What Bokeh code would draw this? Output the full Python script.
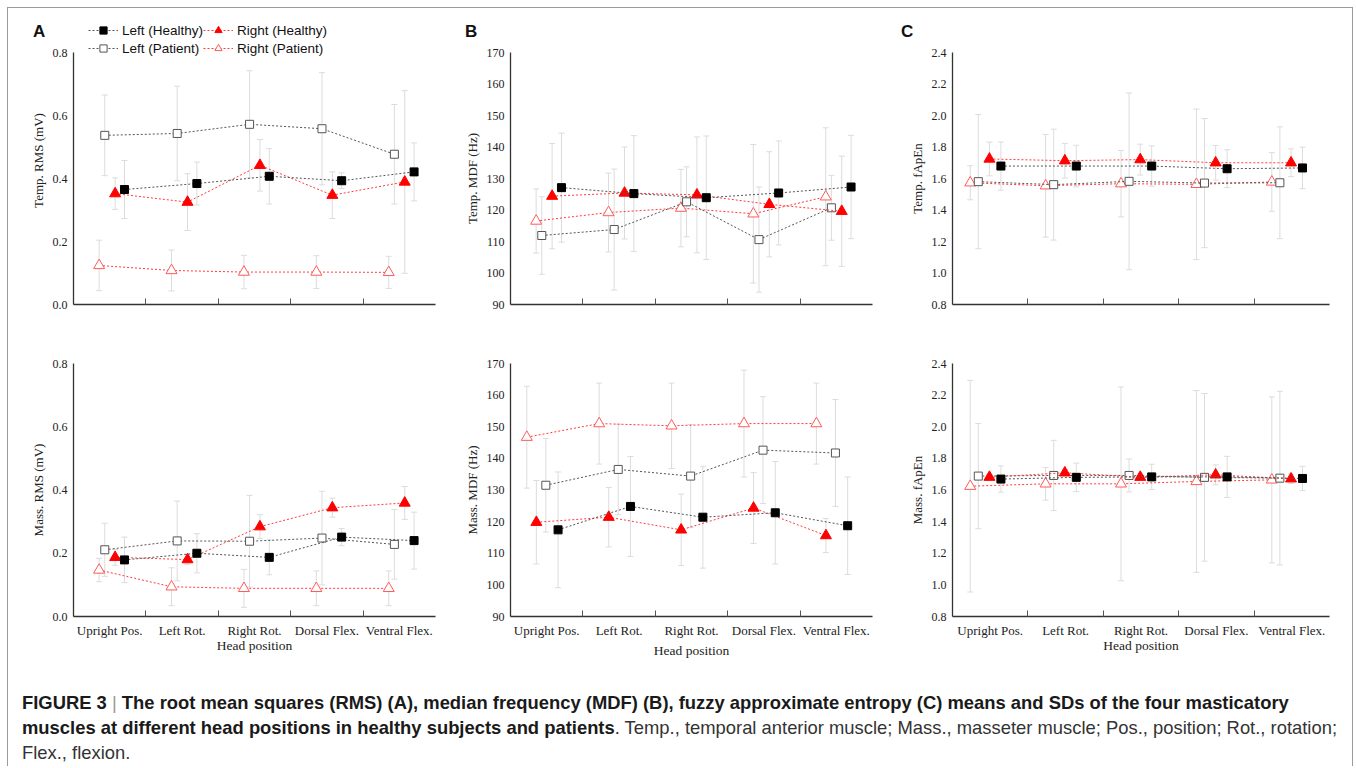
import numpy as np
from bokeh.plotting import figure
from bokeh.models import (ColumnDataSource, Whisker, TeeHead, Range1d, FixedTicker,
                          NumeralTickFormatter, Legend, LegendItem, Div, Spacer)
from bokeh.layouts import row, column
from bokeh.embed import file_html
from bokeh.resources import INLINE

# ---------------- data ----------------
categories = ["Upright Pos.", "Left Rot.", "Right Rot.", "Dorsal Flex.", "Ventral Flex."]
series_labels = {"LH": "Left (Healthy)", "RH": "Right (Healthy)",
                 "LP": "Left (Patient)", "RP": "Right (Patient)"}

# Temporal RMS (mV)
temp_rms_lh = [0.365, 0.384, 0.407, 0.393, 0.421]
temp_rms_lh_sd = [0.092, 0.068, 0.088, 0.025, 0.092]
temp_rms_rh = [0.352, 0.325, 0.442, 0.347, 0.389]
temp_rms_rh_sd = [0.050, 0.090, 0.082, 0.074, 0.290]
temp_rms_lp = [0.537, 0.543, 0.572, 0.558, 0.477]
temp_rms_lp_sd = [0.128, 0.150, 0.170, 0.178, 0.158]
temp_rms_rp = [0.124, 0.108, 0.103, 0.103, 0.102]
temp_rms_rp_sd = [0.080, 0.065, 0.053, 0.052, 0.051]

# Masseter RMS (mV)
mass_rms_lh = [0.179, 0.200, 0.187, 0.251, 0.240]
mass_rms_lh_sd = [0.072, 0.062, 0.055, 0.027, 0.090]
mass_rms_rh = [0.187, 0.180, 0.284, 0.344, 0.359]
mass_rms_rh_sd = [0.025, 0.015, 0.038, 0.030, 0.052]
mass_rms_lp = [0.211, 0.239, 0.238, 0.248, 0.228]
mass_rms_lp_sd = [0.084, 0.126, 0.145, 0.148, 0.110]
mass_rms_rp = [0.147, 0.094, 0.089, 0.089, 0.089]
mass_rms_rp_sd = [0.037, 0.060, 0.060, 0.055, 0.055]

# Temporal MDF (Hz)
temp_mdf_lh = [127.1, 125.2, 123.9, 125.4, 127.3]
temp_mdf_lh_sd = [17.3, 18.4, 19.6, 16.5, 16.4]
temp_mdf_rh = [124.4, 125.4, 124.8, 121.8, 119.6]
temp_mdf_rh_sd = [16.7, 14.6, 18.4, 16.7, 17.5]
temp_mdf_lp = [111.9, 113.8, 122.6, 110.6, 120.7]
temp_mdf_lp_sd = [12.3, 19.2, 11.1, 16.7, 10.3]
temp_mdf_rp = [116.5, 119.2, 120.6, 118.8, 124.2]
temp_mdf_rp_sd = [10.2, 12.5, 12.3, 22.0, 21.9]

# Masseter MDF (Hz)
mass_mdf_lh = [117.4, 124.8, 121.4, 122.8, 118.7]
mass_mdf_lh_sd = [18.3, 15.8, 16.1, 16.2, 15.4]
mass_mdf_rh = [119.8, 121.4, 117.4, 124.3, 115.6]
mass_mdf_rh_sd = [13.2, 9.4, 11.3, 11.2, 5.4]
mass_mdf_lp = [131.5, 136.5, 134.4, 142.6, 141.7]
mass_mdf_lp_sd = [14.8, 14.3, 16.3, 16.9, 16.9]
mass_mdf_rp = [146.7, 151.0, 150.3, 151.0, 151.0]
mass_mdf_rp_sd = [16.1, 12.8, 13.5, 16.9, 12.8]

# Temporal fApEn
temp_fapen_lh = [1.679, 1.679, 1.679, 1.662, 1.667]
temp_fapen_lh_sd = [0.153, 0.132, 0.128, 0.120, 0.132]
temp_fapen_rh = [1.724, 1.713, 1.720, 1.700, 1.700]
temp_fapen_rh_sd = [0.107, 0.110, 0.098, 0.110, 0.088]
temp_fapen_lp = [1.580, 1.561, 1.582, 1.571, 1.573]
temp_fapen_lp_sd = [0.426, 0.352, 0.561, 0.410, 0.355]
temp_fapen_rp = [1.573, 1.554, 1.567, 1.563, 1.578]
temp_fapen_rp_sd = [0.108, 0.326, 0.211, 0.478, 0.186]

# Masseter fApEn
mass_fapen_lh = [1.669, 1.680, 1.683, 1.683, 1.673]
mass_fapen_lh_sd = [0.083, 0.090, 0.080, 0.130, 0.077]
mass_fapen_rh = [1.681, 1.709, 1.681, 1.696, 1.671]
mass_fapen_rh_sd = [0.020, 0.020, 0.020, 0.063, 0.030]
mass_fapen_lp = [1.688, 1.692, 1.692, 1.680, 1.675]
mass_fapen_lp_sd = [0.333, 0.222, 0.104, 0.530, 0.549]
mass_fapen_rp = [1.624, 1.639, 1.639, 1.654, 1.664]
mass_fapen_rp_sd = [0.669, 0.103, 0.613, 0.575, 0.525]

panel_letters = ["A", "B", "C"]

# ---------------- styles ----------------
STY = {
    "LH": dict(marker="square", size=8, fill_color="black", line_color="black", lc="#555555"),
    "LP": dict(marker="square", size=8, fill_color="white", line_color="#555555", lc="#555555"),
    "RH": dict(marker="triangle", size=11, fill_color="#ff0000", line_color="#ff0000", lc="#ff3b3b"),
    "RP": dict(marker="triangle", size=11, fill_color="white", line_color="#ff5a5a", lc="#ff3b3b"),
}
ERR = "#dcdcdc"
SERIF = "Liberation Serif"
SANS = "Liberation Sans"

# within-category offsets (fraction of category width), per panel group
OFF_A = {"RP": -0.146, "LP": -0.068, "RH": 0.075, "LH": 0.204}
OFF_B2 = {"RP": -0.275, "RH": -0.143, "LP": -0.012, "LH": 0.157}
OFF_C = {"RP": -0.265, "LP": -0.158, "RH": -0.010, "LH": 0.142}


def make_panel(ylabel, ylim, yticks, yfmt, data, offsets, width, height,
               mbl, mbr, mbt, mbb, bottom, legend=False, xlab_standoff=-3, extra_top=0):
    """extra_top: pixels of frame kept above the axis top (room for the legend)."""
    n = len(categories)
    frame_h = height - mbt - mbb
    axis_px = frame_h - extra_top
    y_hi = ylim[1] + (ylim[1] - ylim[0]) * extra_top / axis_px
    p = figure(width=width, height=height, x_range=Range1d(0, n),
               y_range=Range1d(ylim[0], y_hi), output_backend="svg", toolbar_location=None,
               min_border_left=mbl, min_border_right=mbr, min_border_top=mbt,
               min_border_bottom=mbb, background_fill_color="white",
               border_fill_color="white", outline_line_color=None)
    p.xgrid.visible = False
    p.ygrid.visible = False

    idx = np.arange(n) + 0.5
    order = ["RP", "LP", "RH", "LH"]
    for k in order:
        m, sd = np.array(data[k][0]), np.array(data[k][1])
        src = ColumnDataSource(dict(x=idx + offsets[k], upper=m + sd, lower=m - sd))
        w = Whisker(base="x", upper="upper", lower="lower", source=src,
                    line_color=ERR, line_width=1,
                    upper_head=TeeHead(size=6, line_color=ERR, line_width=1),
                    lower_head=TeeHead(size=6, line_color=ERR, line_width=1))
        p.add_layout(w)
    rends = {}
    for k in order:
        m = np.array(data[k][0])
        s = STY[k]
        src = ColumnDataSource(dict(x=idx + offsets[k], y=m))
        ln = p.line("x", "y", source=src, line_color=s["lc"], line_width=1, line_dash="2 2")
        sc = p.scatter("x", "y", source=src, marker=s["marker"], size=s["size"],
                       fill_color=s["fill_color"], line_color=s["line_color"], line_width=1)
        rends[k] = (ln, sc)

    ya = p.yaxis[0]
    ya.bounds = (ylim[0], ylim[1])
    ya.ticker = FixedTicker(ticks=yticks)
    ya.formatter = NumeralTickFormatter(format=yfmt)
    ya.axis_label = ylabel
    ya.axis_label_text_font = SERIF
    ya.axis_label_text_font_style = "normal"
    ya.axis_label_text_font_size = "13px"
    ya.axis_label_text_color = "#222"
    ya.axis_label_standoff = 4
    ya.major_label_text_font = SERIF
    ya.major_label_text_font_size = "12px"
    ya.major_label_text_color = "#222"
    ya.major_label_standoff = 6
    ya.major_tick_in = 0
    ya.major_tick_out = 0
    ya.minor_tick_in = 0
    ya.minor_tick_out = 0
    ya.axis_line_color = "#333"
    ya.axis_line_width = 1.3

    xa = p.xaxis[0]
    minor = list(np.arange(1, n).astype(float))
    xa.major_tick_in = 0
    xa.major_tick_out = 0
    xa.minor_tick_in = 6
    xa.minor_tick_out = 0
    xa.minor_tick_line_color = "#555"
    xa.axis_line_color = "#333"
    xa.axis_line_width = 1.3
    if bottom:
        xa.ticker = FixedTicker(ticks=list(idx), minor_ticks=minor)
        xa.major_label_overrides = {float(c): lab for c, lab in zip(idx, categories)}
        xa.major_label_text_font = SERIF
        xa.major_label_text_color = "#222"
        xa.major_label_standoff = 6
        xa.major_label_text_font_size = "13px"
        xa.axis_label = "Head position"
        xa.axis_label_text_font = SERIF
        xa.axis_label_text_font_style = "normal"
        xa.axis_label_text_font_size = "13.5px"
        xa.axis_label_text_color = "#222"
        xa.axis_label_standoff = xlab_standoff
    else:
        xa.ticker = FixedTicker(ticks=[], minor_ticks=minor)

    if legend:
        items = [LegendItem(label=series_labels["LH"], renderers=list(rends["LH"])),
                 LegendItem(label=series_labels["LP"], renderers=list(rends["LP"])),
                 LegendItem(label=series_labels["RH"], renderers=list(rends["RH"])),
                 LegendItem(label=series_labels["RP"], renderers=list(rends["RP"]))]
        lg = Legend(items=items, ncols=2, location=(15, frame_h - 41),
                    glyph_width=30, glyph_height=18, label_height=15, label_standoff=4,
                    spacing=0, padding=0, margin=0, border_line_color=None,
                    background_fill_alpha=0, label_text_font=SANS,
                    label_text_font_size="13.5px", label_text_color="#111")
        p.add_layout(lg)
    return p


def d(lh, lhs, lp, lps, rh, rhs, rp, rps):
    return {"LH": (lh, lhs), "LP": (lp, lps), "RH": (rh, rhs), "RP": (rp, rps)}


rms_ticks = [0.0, 0.2, 0.4, 0.6, 0.8]
mdf_ticks = [90, 100, 110, 120, 130, 140, 150, 160, 170]
fap_ticks = [0.8, 1.0, 1.2, 1.4, 1.6, 1.8, 2.0, 2.2, 2.4]

WA, WB, WC = 450, 442, 452
H1, H2 = 320, 336
CAP_H = 102

pA1 = make_panel("Temp. RMS (mV)", (0, 0.8), rms_ticks, "0.0",
                 d(temp_rms_lh, temp_rms_lh_sd, temp_rms_lp, temp_rms_lp_sd,
                   temp_rms_rh, temp_rms_rh_sd, temp_rms_rp, temp_rms_rp_sd),
                 OFF_A, WA, H1, 65, 23, 8, 24, False, legend=True, extra_top=36)
pA2 = make_panel("Mass. RMS (mV)", (0, 0.8), rms_ticks, "0.0",
                 d(mass_rms_lh, mass_rms_lh_sd, mass_rms_lp, mass_rms_lp_sd,
                   mass_rms_rh, mass_rms_rh_sd, mass_rms_rp, mass_rms_rp_sd),
                 OFF_A, WA, H2, 65, 23, 35, 48, True)
pB1 = make_panel("Temp. MDF (Hz)", (90, 170), mdf_ticks, "0",
                 d(temp_mdf_lh, temp_mdf_lh_sd, temp_mdf_lp, temp_mdf_lp_sd,
                   temp_mdf_rh, temp_mdf_rh_sd, temp_mdf_rp, temp_mdf_rp_sd),
                 OFF_A, WB, H1, 52, 28, 44, 24, False)
pB2 = make_panel("Mass. MDF (Hz)", (90, 170), mdf_ticks, "0",
                 d(mass_mdf_lh, mass_mdf_lh_sd, mass_mdf_lp, mass_mdf_lp_sd,
                   mass_mdf_rh, mass_mdf_rh_sd, mass_mdf_rp, mass_mdf_rp_sd),
                 OFF_B2, WB, H2, 52, 20, 35, 48, True, xlab_standoff=2)
pC1 = make_panel("Temp. fApEn", (0.8, 2.4), fap_ticks, "0.0",
                 d(temp_fapen_lh, temp_fapen_lh_sd, temp_fapen_lp, temp_fapen_lp_sd,
                   temp_fapen_rh, temp_fapen_rh_sd, temp_fapen_rp, temp_fapen_rp_sd),
                 OFF_C, WC, H1, 52, 23, 44, 24, False)
pC2 = make_panel("Mass. fApEn", (0.8, 2.4), fap_ticks, "0.0",
                 d(mass_fapen_lh, mass_fapen_lh_sd, mass_fapen_lp, mass_fapen_lp_sd,
                   mass_fapen_rh, mass_fapen_rh_sd, mass_fapen_rp, mass_fapen_rp_sd),
                 OFF_C, WC, H2, 52, 23, 35, 48, True)

# panel letters (HTML, positioned over the top row) + caption
CAP_TOP = H1 + H2  # caption top, relative to content origin
letter_left = [25, 457, 893]
letters_html = "".join(
    '<span style="position:absolute;left:%dpx;top:%dpx;font-family:\'Liberation Sans\',Arial,'
    'sans-serif;font-weight:bold;font-size:17px;line-height:21px;color:#111;">%s</span>'
    % (lx, 13 - CAP_TOP, t)
    for lx, t in zip(letter_left, panel_letters))

caption_html = (
    '<div style="position:relative;">' + letters_html +
    '<div style="font-family:\'Liberation Sans\',Arial,sans-serif;font-size:18.4px;'
    'line-height:25px;color:#333;white-space:nowrap;padding:26px 0 0 14px;">'
    '<b style="color:#1a1a1a">FIGURE 3</b> <span style="color:#999;font-weight:normal">|</span> '
    '<b style="color:#1a1a1a">The root mean squares (RMS) (A), median frequency (MDF) (B), '
    'fuzzy approximate entropy (C) means and SDs of the four masticatory</b><br>'
    '<b style="color:#1a1a1a">muscles at different head positions in healthy subjects and patients</b>'
    '. Temp., temporal anterior muscle; Mass., masseter muscle; Pos., position; Rot., rotation;<br>'
    'Flex., flexion.</div></div>'
)
CW = WA + WB + WC
caption = Div(text=caption_html, width=CW, height=CAP_H, margin=0)

content = column(row(column(pA1, pA2), column(pB1, pB2), column(pC1, pC2)), caption)
CH = H1 + H2 + CAP_H
LINE = {"background-color": "#9a9a9a"}
frame_top = row(Spacer(width=7, height=1, margin=0),
                Div(text="", width=CW + 2, height=1, styles=LINE, margin=0))
frame_mid = row(Spacer(width=7, height=CH, margin=0),
                Div(text="", width=1, height=CH, styles=LINE, margin=0),
                content,
                Div(text="", width=1, height=CH, styles=LINE, margin=0))
layout = column(Spacer(width=1, height=7, margin=0), frame_top, frame_mid)

open("out.html", "w").write(file_html(layout, INLINE))
